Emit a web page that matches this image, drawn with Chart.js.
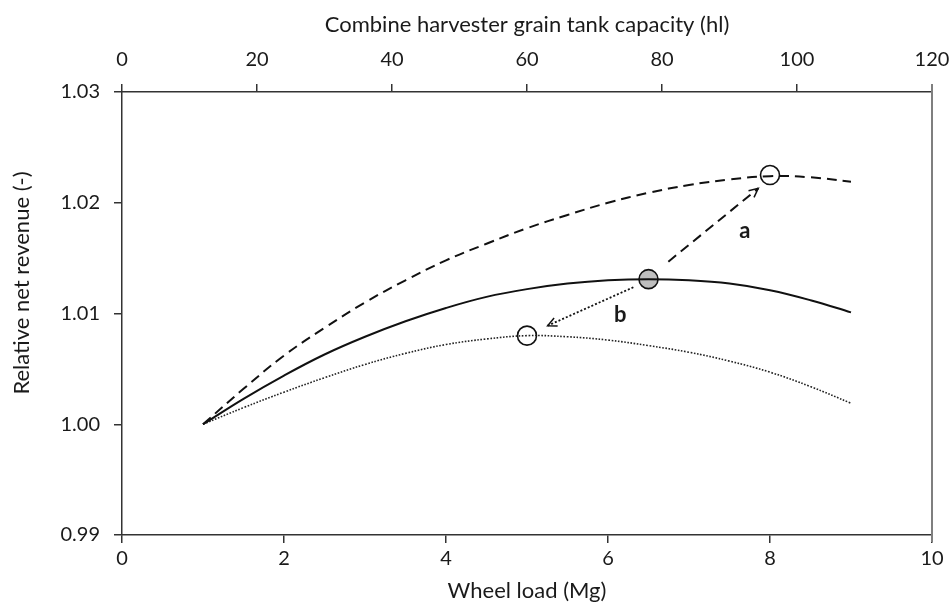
<!DOCTYPE html>
<html><head><meta charset="utf-8">
<script src="https://cdn.jsdelivr.net/npm/chart.js@4.4.0/dist/chart.umd.min.js"></script>
<style>html,body{margin:0;padding:0;background:#fff}#wrap{width:952px;height:611px}</style>
</head><body><div id="wrap"><canvas id="c" width="952" height="611"></canvas></div>
<script>
// ---- data ----
const wheelLoad  = [1, 1.5, 2, 2.5, 3, 3.5, 4, 4.5, 5, 5.5, 6, 6.5, 7, 7.5, 8, 8.5, 9];
const baseline   = [1.0000, 1.0023, 1.0044, 1.0063, 1.0079, 1.0093, 1.0105, 1.0115, 1.0122, 1.0127, 1.0130, 1.0131, 1.0130, 1.0127, 1.0121, 1.0112, 1.0101];
const scenarioA  = [1.0000, 1.0032, 1.0062, 1.0087, 1.0110, 1.0130, 1.0148, 1.0163, 1.0177, 1.0189, 1.0200, 1.0209, 1.0216, 1.0221, 1.0224, 1.0223, 1.0219];
const scenarioB  = [1.0000, 1.0015, 1.0029, 1.0042, 1.0054, 1.0064, 1.0072, 1.0077, 1.0080, 1.0079, 1.0076, 1.0071, 1.0065, 1.0057, 1.0047, 1.0034, 1.0019];
const optimaX    = [8.0, 6.5, 5.0];
const optimaY    = [1.0225, 1.0131, 1.0080];
const arrowFrom  = [[6.745, 1.01468], [6.313, 1.01237]];
const arrowTo    = [[7.855, 1.02130], [5.255, 1.00890]];
const arrowLabels = ['a', 'b'];
const labelPos   = [[7.69, 1.0175], [6.15, 1.0099]];
const xTitle  = 'Wheel load (Mg)';
const x2Title = 'Combine harvester grain tank capacity (hl)';
const yTitle  = 'Relative net revenue (-)';

const pts = (xs, ys) => xs.map((x, i) => ({x, y: ys[i]}));
const FONT = 'Lato';
const TXT = '#1a1a1a';
const AX = '#333';

const annot = {
  id: 'annot',
  afterDatasetsDraw(chart) {
    const {ctx, scales: {x, y}} = chart;
    ctx.save();
    const dashes = [[10, 6], [2, 2]];
    arrowFrom.forEach((f, i) => {
      const x0 = x.getPixelForValue(f[0]), y0 = y.getPixelForValue(f[1]);
      const x1 = x.getPixelForValue(arrowTo[i][0]), y1 = y.getPixelForValue(arrowTo[i][1]);
      ctx.strokeStyle = '#111';
      ctx.lineWidth = i === 0 ? 2 : 1.8;
      ctx.setLineDash(dashes[i]);
      ctx.beginPath(); ctx.moveTo(x0, y0); ctx.lineTo(x1, y1); ctx.stroke();
      ctx.setLineDash([]);
      const ang = Math.atan2(y1 - y0, x1 - x0), L = 10, w = 0.45;
      ctx.lineWidth = 1.5;
      ctx.beginPath();
      ctx.moveTo(x1 - L * Math.cos(ang - w), y1 - L * Math.sin(ang - w));
      ctx.lineTo(x1, y1);
      ctx.lineTo(x1 - L * Math.cos(ang + w), y1 - L * Math.sin(ang + w));
      ctx.stroke();
    });
    ctx.fillStyle = TXT;
    ctx.font = 'bold 22px ' + FONT;
    ctx.textAlign = 'center'; ctx.textBaseline = 'middle';
    arrowLabels.forEach((t, i) => {
      ctx.fillText(t, x.getPixelForValue(labelPos[i][0]), y.getPixelForValue(labelPos[i][1]));
    });
    ctx.restore();
  },
  afterDraw(chart) {
    const {ctx, chartArea} = chart;
    ctx.save();
    ctx.strokeStyle = '#7f7f7f';
    ctx.lineWidth = 2;
    ctx.beginPath();
    ctx.moveTo(chartArea.right, chartArea.top - 8);
    ctx.lineTo(chartArea.right, chartArea.bottom + 7);
    ctx.stroke();
    // y-axis title
    ctx.fillStyle = TXT;
    ctx.font = '22px ' + FONT;
    ctx.textAlign = 'center'; ctx.textBaseline = 'middle';
    ctx.translate(22, 283);
    ctx.rotate(-Math.PI / 2);
    ctx.fillText(yTitle, 0, 0);
    ctx.restore();
  }
};

const tickFont = {family: FONT, size: 20};
const titleFont = {family: FONT, size: 22};
const fitH = h => s => { s.height = h; s.paddingLeft = 0; s.paddingRight = 0; };

new Chart(document.getElementById('c'), {
  type: 'line',
  data: {
    datasets: [
      {data: pts(wheelLoad, scenarioA), borderColor: '#111', borderWidth: 2, borderDash: [10, 6], pointRadius: 0, tension: 0.4, order: 1},
      {data: pts(wheelLoad, baseline), borderColor: '#111', borderWidth: 2, pointRadius: 0, tension: 0.4, order: 1},
      {data: pts(wheelLoad, scenarioB), borderColor: '#222', borderWidth: 1.6, borderDash: [1.6, 1.6], pointRadius: 0, tension: 0.4, order: 1},
      {data: pts(optimaX, optimaY), showLine: false, pointRadius: 9.5, pointBorderWidth: 1.6,
       pointBorderColor: '#111', pointBackgroundColor: ['rgba(255,255,255,0)', '#bfbfbf', 'rgba(255,255,255,0)'], order: 5}
    ]
  },
  options: {
    responsive: false, animation: false, devicePixelRatio: 1,
    layout: {padding: {left: 0, right: 20, top: 0, bottom: 0}},
    plugins: {legend: {display: false}, tooltip: {enabled: false}},
    scales: {
      x: {
        type: 'linear', position: 'bottom', min: 0, max: 10,
        afterFit: fitH(76),
        ticks: {stepSize: 2, font: tickFont, color: TXT, padding: 4, maxRotation: 0},
        grid: {drawOnChartArea: false, tickLength: 8, color: AX, lineWidth: 1.5},
        border: {color: AX, width: 1.5},
        title: {display: true, text: xTitle, font: titleFont, color: TXT, padding: {top: 0, bottom: 7}}
      },
      x2: {
        type: 'linear', position: 'top', min: 0, max: 120,
        afterFit: fitH(92),
        ticks: {stepSize: 20, font: tickFont, color: TXT, padding: 12, maxRotation: 0},
        grid: {drawOnChartArea: false, tickLength: 8, color: AX, lineWidth: 1.5},
        border: {color: AX, width: 1.5},
        title: {display: true, text: x2Title, font: titleFont, color: TXT, padding: {top: 12, bottom: 0}}
      },
      y: {
        type: 'linear', position: 'left', min: 0.99, max: 1.03,
        afterFit: s => { s.width = 122; s.paddingTop = 0; s.paddingBottom = 0; },
        ticks: {stepSize: 0.01, font: tickFont, color: TXT, padding: 14, callback: v => v.toFixed(2)},
        grid: {drawOnChartArea: false, tickLength: 8, color: AX, lineWidth: 1.5},
        border: {color: AX, width: 1.5},
        title: {display: false, text: yTitle}
      }
    }
  },
  plugins: [annot]
});
</script></body></html>
